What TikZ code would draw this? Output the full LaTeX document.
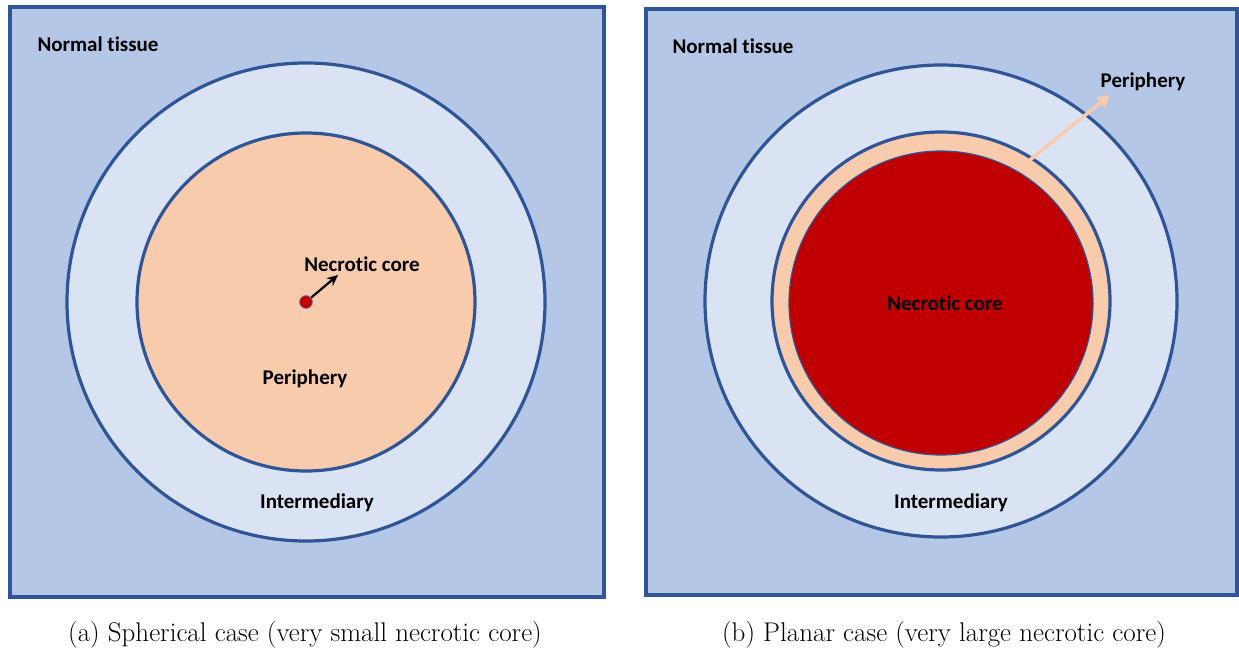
\documentclass[tikz,border=0pt]{standalone}
\usepackage{fontspec}
\newfontfamily\carlitofont[Ligatures={NoCommon}]{Carlito}
\usetikzlibrary{arrows.meta}
\definecolor{bgblue}{HTML}{B4C7E7}
\definecolor{midblue}{HTML}{DAE3F3}
\definecolor{peach}{HTML}{F8CBAD}
\definecolor{core}{HTML}{C00000}
\definecolor{edge}{HTML}{2F5597}
\tikzset{
  panel/.style={draw=edge, fill=bgblue, line width=3.5pt},
  ring/.style={circle, draw=edge, line width=3.2pt, inner sep=0pt},
  lbl/.style={font=\carlitofont\bfseries\fontsize{21}{24}\selectfont, text=black, inner sep=0pt},
  captext/.style={font=\fontsize{27}{30}\selectfont, inner sep=0pt}
}
\begin{document}
\begin{tikzpicture}[x=1pt,y=-1pt]
\useasboundingbox (0,0) rectangle (1239,653);
% left panel
\draw[panel] (10,7) rectangle (604,597);
\node[ring, fill=midblue, minimum size=478pt] (Lint) at (306,302) {};
\node[ring, fill=peach, minimum size=338pt] (Lper) at (306,302) {};
\node[circle, draw=edge!70, line width=0.8pt, fill=core, minimum size=13pt, inner sep=0pt] (Ldot) at (306,302) {};
\coordinate (Lend) at (338,275);
\draw[line width=2.2pt, -{Stealth[length=11pt,width=10pt]}] (Ldot) -- (Lend);
\node[lbl] (Lnt) at (98,44) {Normal tissue};
\node[lbl] (Lnc) at (362,264) {Necrotic core};
\node[lbl] (Lp) at (305,379) {Periphery};
\node[lbl] (Li) at (317,503) {Intermediary};
% right panel
\draw[panel] (646,9) rectangle (1237,595);
\node[ring, fill=midblue, minimum size=472pt] (Rint) at (941,301) {};
\node[ring, fill=peach, minimum size=338pt] (Rper) at (941,301) {};
\node[circle, draw=edge, line width=1.2pt, fill=core, minimum size=304pt, inner sep=0pt] (Rcore) at (941,303) {};
\coordinate (Rstart) at (1025,164);
\coordinate (Rend) at (1110,95);
\draw[peach, line width=3.5pt, -{Triangle[length=12pt,width=13pt]}] (Rstart) -- (Rend);
\node[lbl] (Rnt) at (733,46) {Normal tissue};
\node[lbl] (Rnc) at (945,303) {Necrotic core};
\node[lbl] (Rp) at (1143,82) {Periphery};
\node[lbl] (Ri) at (951,503) {Intermediary};
% captions
\node[captext] (capa) at (305,635) {(a) Spherical case (very small necrotic core)};
\node[captext] (capb) at (944,635) {(b) Planar case (very large necrotic core)};
\end{tikzpicture}
\end{document}
